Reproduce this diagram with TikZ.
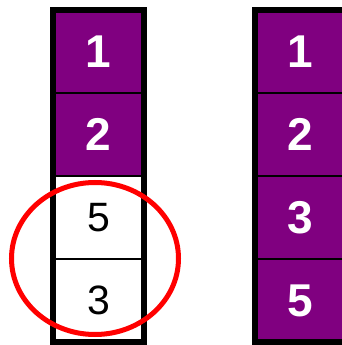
\documentclass[tikz,border=0pt]{standalone}
\usepackage{fontspec}
\setmainfont{Liberation Sans}
\usepackage{tikz}
\usetikzlibrary{positioning,fit}
\definecolor{plum}{HTML}{800080}
\definecolor{ringred}{HTML}{FF0000}

\begin{document}
\begin{tikzpicture}[x=1pt,y=1pt,node distance=0pt,
  cell/.style={draw=black,line width=2pt,minimum width=91pt,minimum height=83pt,inner sep=0pt,outer sep=0pt},
  done/.style={cell,fill=plum,text=white,font=\fontsize{46}{46}\selectfont\bfseries},
  open/.style={cell,fill=white,text=black,font=\fontsize{41}{41}\selectfont},
  frame/.style={draw=black,line width=6pt,inner sep=0pt},
  ring/.style={draw=ringred,line width=5pt}]
\useasboundingbox (0,0) rectangle (342,345);
% left column: two sorted, two still open
\node[done] (l1) at (98.5,293.5) {1};
\node[done,below=of l1] (l2) {2};
\node[open,below=of l2] (l3) {5};
\node[open,below=of l3] (l4) {3};
\node[frame,fit=(l1)(l4)] (lcol) {};
% right column: all sorted
\node[done] (r1) at (300,293.5) {1};
\node[done,below=of r1] (r2) {2};
\node[done,below=of r2] (r3) {3};
\node[done,below=of r3] (r4) {5};
\node[frame,fit=(r1)(r4)] (rcol) {};
% mark the swapped pair
\coordinate (ringc) at (95,86.5);
\draw[ring] (ringc) ellipse [x radius=83.5, y radius=76];
\end{tikzpicture}
\end{document}
